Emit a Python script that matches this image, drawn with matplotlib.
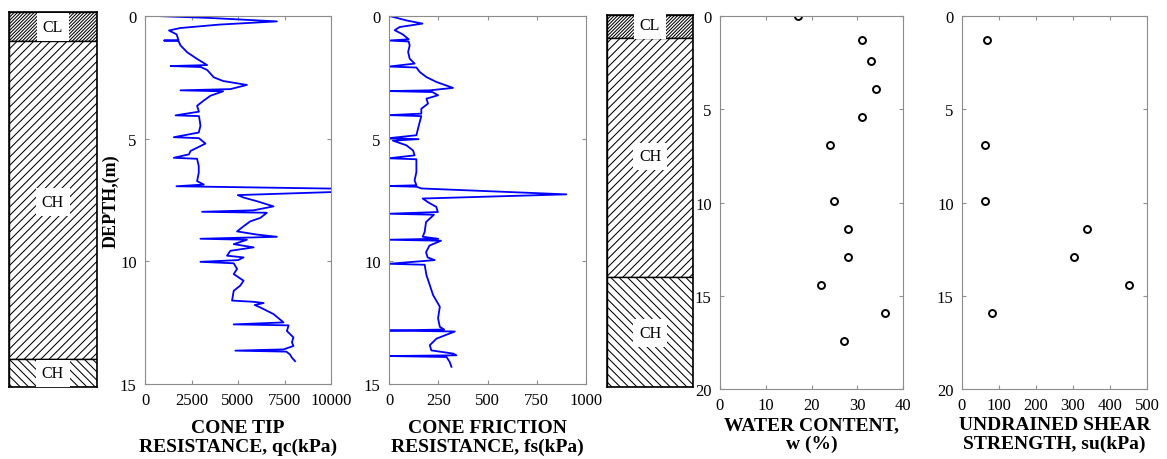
import matplotlib
matplotlib.use("Agg")
import matplotlib.pyplot as plt

plt.rcParams['font.family'] = ['Liberation Serif', 'DejaVu Serif']
plt.rcParams['hatch.linewidth'] = 0.75

# soil layers (top, bottom, label, hatch) for the two logs
log1_layers = [(0.0, 1.16, 'CL', '//////////'), (1.16, 13.88, 'CH', '////'), (13.88, 15.0, 'CH', '\\\\\\\\')]
log2_layers = [(0.0, 1.24, 'CL', '//////////'), (1.24, 14.1, 'CH', '////'), (14.1, 20.0, 'CH', '\\\\\\\\')]
log1_label_depth = [0.6, 7.6, 14.45]
log2_label_depth = [0.55, 7.6, 17.1]

# cone tip resistance profile
qc_depth = [0.00, 0.08, 0.22, 0.35, 0.49, 0.59, 0.75, 0.98, 1.00, 1.02, 1.20, 1.48, 1.75, 2.00,
            2.04, 2.08, 2.20, 2.50, 2.65, 2.81, 2.98, 3.03, 3.07, 3.25, 3.45, 3.66, 3.90, 4.05,
            4.08, 4.30, 4.48, 4.75, 4.94, 4.98, 5.20, 5.50, 5.64, 5.78, 5.82, 6.12, 6.39, 6.73,
            6.87, 6.94, 7.08, 7.30, 7.40, 7.55, 7.76, 7.92, 7.98, 8.02, 8.23, 8.37, 8.57, 8.78,
            8.91, 9.00, 9.08, 9.12, 9.30, 9.43, 9.57, 9.77, 9.84, 9.95, 10.02, 10.08, 10.31, 10.52,
            10.79, 10.99, 11.20, 11.60, 11.65, 11.70, 11.78, 11.88, 12.15, 12.49, 12.57, 12.61, 12.84,
            13.10, 13.30, 13.45, 13.59, 13.64, 13.68, 13.80, 13.93, 14.07]
qc_kpa = [570, 3500, 7090, 4000, 1900, 1290, 1700, 1800, 1020, 1800, 1910, 2270, 2800, 3340,
          1380, 3000, 3340, 3700, 4200, 5480, 4590, 1910, 4200, 3520, 3150, 2800, 2900, 1640,
          2900, 2950, 2980, 2890, 1550, 2900, 3250, 2450, 2360, 1550, 2800, 2890, 2890, 2800,
          3160, 1690, 14000, 4990, 5300, 6020, 6910, 5840, 3070, 6550, 6200, 5660, 5300, 4950,
          6020, 7090, 2980, 5480, 4770, 5840, 4590, 4410, 5300, 5000, 2980, 4770, 4950, 4770,
          5300, 5120, 4770, 4680, 5840, 6380, 5900, 6200, 6910, 7450, 4770, 7720, 7630,
          7980, 7900, 7980, 7450, 4860, 7600, 7800, 7900, 8070]

# cone friction resistance profile
fs_depth = [0.00, 0.18, 0.31, 0.45, 0.58, 0.75, 0.95, 1.00, 1.04, 1.20, 1.47, 1.74, 1.94, 2.06,
            2.10, 2.28, 2.49, 2.69, 2.93, 3.03, 3.06, 3.10, 3.23, 3.37, 3.57, 3.78, 3.98, 4.04,
            4.08, 4.32, 4.60, 4.86, 4.98, 5.02, 5.08, 5.27, 5.48, 5.68, 5.80, 5.84, 6.09, 6.36,
            6.70, 6.90, 6.93, 6.96, 7.03, 7.27, 7.44, 7.60, 7.78, 7.99, 8.06, 8.10, 8.40, 8.80,
            9.00, 9.08, 9.12, 9.16, 9.36, 9.63, 9.84, 9.95, 10.10, 10.14, 10.56, 10.97, 11.38,
            11.85, 12.32, 12.67, 12.78, 12.82, 12.86, 13.15, 13.42, 13.63, 13.76, 13.83, 13.86,
            13.90, 14.10, 14.30]
fs_kpa = [3, 88, 170, 54, 29, 70, 100, 0, 100, 105, 97, 105, 130, 0,
          139, 156, 190, 241, 325, 207, 0, 220, 249, 190, 198, 164, 164, 0,
          164, 156, 147, 139, 0, 150, 20, 88, 122, 130, 0, 139, 139, 139,
          130, 139, 0, 140, 165, 900, 171, 200, 240, 248, 0, 228, 188, 181,
          171, 250, 0, 264, 205, 188, 196, 232, 0, 181, 190, 207, 224,
          258, 249, 258, 280, 0, 334, 241, 207, 215, 325, 342, 0,
          292, 308, 317]

# laboratory results
w_depth = [0.0, 1.3, 2.4, 3.9, 5.4, 6.9, 9.9, 11.4, 12.9, 14.4, 15.9, 17.4]
w_pct = [17, 31, 33, 34, 31, 24, 25, 28, 28, 22, 36, 27]
su_depth = [1.3, 6.9, 9.9, 11.4, 12.9, 14.45, 15.95]
su_kpa = [67, 62, 62, 339, 302, 452, 82]

W, H = 1167, 460
fig = plt.figure(figsize=(W / 100, H / 100), dpi=100)


def px_axes(x0, y0, x1, y1):
    return fig.add_axes([x0 / W, 1 - y1 / H, (x1 - x0) / W, (y1 - y0) / H])


def soil_log(ax, layers, label_depth, dmax):
    for (top, bot, name, hatch), ld in zip(layers, label_depth):
        ax.axhspan(top, bot, facecolor='white', edgecolor='black', hatch=hatch, lw=1.0)
        ax.text(0.5, ld, name, ha='center', va='center', fontsize=11.5,
                bbox=dict(facecolor='white', edgecolor='none', pad=4))
    ax.set_xlim(0, 1)
    ax.set_ylim(dmax, 0)
    ax.set_xticks([])
    ax.set_yticks([])
    for s in ax.spines.values():
        s.set_color('black')
        s.set_linewidth(1.2)


def style_axes(ax, xlim, xticks, dmax, yticks, xlabel, lpad=8):
    ax.set_xlim(*xlim)
    ax.set_ylim(dmax, 0)
    ax.set_xticks(xticks)
    ax.set_yticks(yticks)
    ax.tick_params(direction='in', length=3, color='#909090', top=True, right=True,
                   labelsize=12, pad=6)
    for s in ax.spines.values():
        s.set_color('#8c8c8c')
        s.set_linewidth(0.8)
    ax.set_xlabel(xlabel, fontsize=14, fontweight='bold', linespacing=1.1, labelpad=lpad)


ax0 = px_axes(9, 13, 97, 388)
soil_log(ax0, log1_layers, log1_label_depth, 15)

ax1 = px_axes(145, 17, 331, 385)
ax1.plot(qc_kpa, qc_depth, color='#0000ff', lw=1.3)
style_axes(ax1, (0, 10000), [0, 2500, 5000, 7500, 10000], 15, [0, 5, 10, 15],
           'CONE TIP\nRESISTANCE, qc(kPa)')
ax1.set_ylabel('DEPTH,(m)', fontsize=13, fontweight='bold', labelpad=0)

ax2 = px_axes(389, 17, 586, 385)
ax2.plot(fs_kpa, fs_depth, color='#0000ff', lw=1.3)
style_axes(ax2, (0, 1000), [0, 250, 500, 750, 1000], 15, [0, 5, 10, 15],
           'CONE FRICTION\nRESISTANCE, fs(kPa)')

ax3 = px_axes(607, 16, 693, 388)
soil_log(ax3, log2_layers, log2_label_depth, 20)

ax4 = px_axes(720, 17, 903, 390)
ax4.plot(w_pct, w_depth, 'o', mfc='none', mec='black', ms=5, mew=1.4)
style_axes(ax4, (0, 40), [0, 10, 20, 30, 40], 20, [0, 5, 10, 15, 20],
           'WATER CONTENT,\nw (%)', lpad=2)

ax5 = px_axes(962, 17, 1147, 390)
ax5.plot(su_kpa, su_depth, 'o', mfc='none', mec='black', ms=5, mew=1.4)
style_axes(ax5, (0, 500), [0, 100, 200, 300, 400, 500], 20, [0, 5, 10, 15, 20],
           'UNDRAINED SHEAR\nSTRENGTH, su(kPa)', lpad=2)

for ax in (ax1, ax2, ax4, ax5):
    ax.patch.set_alpha(0)

fig.savefig('out.png', dpi=100)
